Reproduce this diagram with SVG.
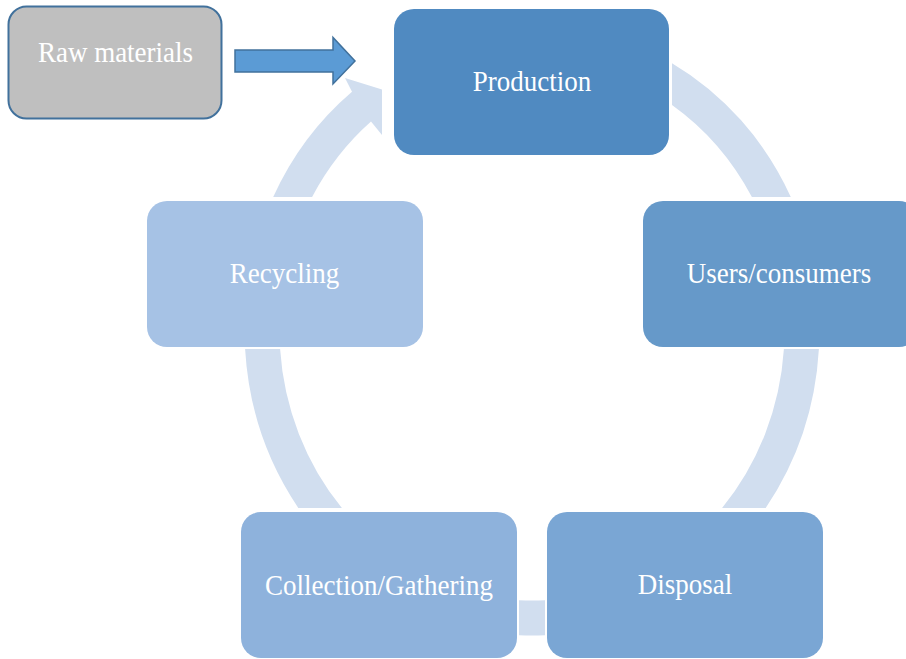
<svg xmlns="http://www.w3.org/2000/svg" width="906" height="659" viewBox="0 0 906 659">
<style>
.ring{fill:#D1DEEF;stroke:none}
.lbl{font-family:'Liberation Serif','DejaVu Serif',serif;font-size:27px;fill:#FFFFFF;text-anchor:middle}
.box{stroke:none}
</style>
<rect width="906" height="659" fill="#FFFFFF"/>
<g id="connectors">
<path class="ring" d="M672,63.2 A287.5,305.5 0 0 1 790.8,197 L751.9,197 A252.5,270.5 0 0 0 672,104.9 Z"/>
<path class="ring" d="M818.9,349 A287.5,305.5 0 0 1 765.7,508 L722.1,508 A252.5,270.5 0 0 0 783.9,349 Z"/>
<path class="ring" d="M545,635.2 A287.5,305.5 0 0 1 519,635.2 L519,600.2 A252.5,270.5 0 0 0 545,600.2 Z"/>
<path class="ring" d="M298.3,508 A287.5,305.5 0 0 1 245.1,349 L280.1,349 A252.5,270.5 0 0 0 341.9,508 Z"/>
<path class="ring" d="M273.2,197 A287.5,305.5 0 0 1 352,91.8 L345,78 L382,89.5 L382,135 L371,121.6 A252.5,270.5 0 0 0 312.1,197 Z"/>
<polygon id="raw-arrow" points="235,50 333,50 333,37.5 355,61 333,84 333,72 235,72" fill="#5B9BD5" stroke="#41719C" stroke-width="1.5" stroke-linejoin="miter"/>
</g>
<g id="raw-materials">
<rect x="8.5" y="6.5" width="213" height="112" rx="18" fill="#BFBFBF" stroke="#41719C" stroke-width="2"/>
<text class="lbl" font-family="Liberation Serif, serif" transform="translate(115.5,62) scale(1,1.067)" fill="#F2F2F2">Raw materials</text>
</g>
<g id="production">
<rect class="box" x="394" y="9" width="275" height="146" rx="20" fill="#508AC1"/>
<text class="lbl" font-family="Liberation Serif, serif" transform="translate(532,90.7) scale(1,1.067)">Production</text>
</g>
<g id="users">
<rect class="box" x="643" y="201" width="276" height="146" rx="20" fill="#6699C9"/>
<text class="lbl" font-family="Liberation Serif, serif" transform="translate(779,282.5) scale(1,1.067)">Users/consumers</text>
</g>
<g id="disposal">
<rect class="box" x="547" y="512" width="276" height="146" rx="20" fill="#7AA6D4"/>
<text class="lbl" font-family="Liberation Serif, serif" transform="translate(685,594) scale(1,1.067)">Disposal</text>
</g>
<g id="collection">
<rect class="box" x="241" y="512" width="276" height="146" rx="20" fill="#8EB2DC"/>
<text class="lbl" font-family="Liberation Serif, serif" transform="translate(379,594.5) scale(1,1.067)">Collection/Gathering</text>
</g>
<g id="recycling">
<rect class="box" x="147" y="201" width="276" height="146" rx="20" fill="#A6C2E5"/>
<text class="lbl" font-family="Liberation Serif, serif" transform="translate(284.5,282.5) scale(1,1.067)">Recycling</text>
</g>
</svg>
